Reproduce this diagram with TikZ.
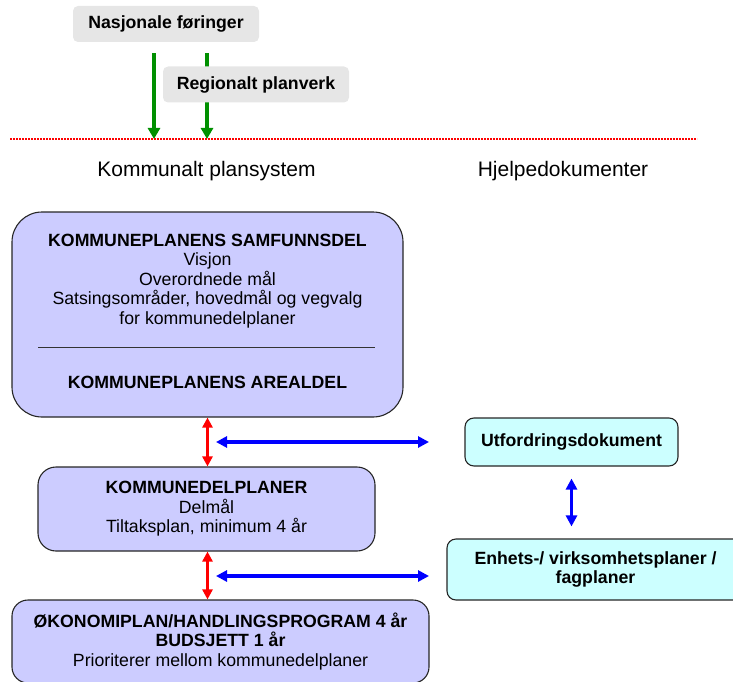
\documentclass[tikz,border=0pt]{standalone}
\usepackage{fontspec}
\setmainfont{Liberation Sans}
\usetikzlibrary{arrows.meta, positioning}
\definecolor{planblaa}{HTML}{CCCCFF}
\definecolor{hjelpturkis}{HTML}{CCFFFF}
\definecolor{lysgraa}{HTML}{E6E6E6}
\definecolor{mørkgrønn}{HTML}{009000}

\begin{document}
\begin{tikzpicture}[x=1pt, y=-1pt, font=\fontsize{17.7}{19.5}\selectfont,
	ekstern/.style = {fill=lysgraa, rounded corners=5pt, inner sep=0pt, minimum width=186pt, minimum height=36pt, font=\fontsize{17.7}{19.5}\selectfont\bfseries},
	planboks/.style = {draw=black!85, line width=1.1pt, fill=planblaa, inner sep=0pt, align=center},
	hjelpboks/.style = {draw=black!85, line width=1.1pt, fill=hjelpturkis, inner sep=0pt, align=center, rounded corners=9pt, font=\fontsize{17.7}{19.5}\selectfont\bfseries},
	grønnpil/.style = {draw=mørkgrønn, line width=3.2pt, -{Triangle[length=11pt, width=12pt]}},
	rødpil/.style = {draw=red, line width=2.6pt, {Triangle[length=10pt, width=10pt]}-{Triangle[length=10pt, width=10pt]}},
	blaapil/.style = {draw=blue, line width=3.1pt, {Triangle[length=11pt, width=11pt]}-{Triangle[length=11pt, width=11pt]}}]
	\useasboundingbox (0,0) rectangle (733,682);

	% nasjonalt og regionalt nivaa
	\coordinate (grensev) at (10,139);
	\coordinate (grenseh) at (697,139);
	\node [ekstern] (nasjonale) at (166,24) {Nasjonale føringer};
	\draw [grønnpil] ([xshift=-12pt, yshift=-11pt]nasjonale.south) -- ([xshift=-12pt]nasjonale.south |- grensev);
	\draw [grønnpil] ([xshift=41pt, yshift=-11pt]nasjonale.south) -- ([xshift=41pt]nasjonale.south |- grensev);
	\node [ekstern] (regionalt) at (256,84.5) {Regionalt planverk};
	\draw [red, densely dotted, line width=2pt] (grensev) -- (grenseh);

	\node [font=\fontsize{21}{23}\selectfont] (kommunalt) at (206.5,171) {Kommunalt plansystem};
	\node [font=\fontsize{21}{23}\selectfont] (hjelpedok) at (563,171) {Hjelpedokumenter};

	% kommunalt plansystem
	\node [planboks, rounded corners=30pt, minimum width=391pt, minimum height=205pt] (samfunn) at (207.5,314.5) {};
	\node [align=center] (samfunntekst) at (207.5,281) {\textbf{KOMMUNEPLANENS SAMFUNNSDEL}\\Visjon\\Overordnede mål\\Satsingsområder, hovedmål og vegvalg\\for kommunedelplaner};
	\draw [black!80, line width=0.6pt] (38,347) -- (375,347);
	\node [font=\fontsize{17.7}{19.5}\selectfont\bfseries] (areal) at (207.5,382) {KOMMUNEPLANENS AREALDEL};

	\node [planboks, rounded corners=18pt, minimum width=337pt, minimum height=84pt] (delplan) at (206.5,509) {\textbf{KOMMUNEDELPLANER}\\Delmål\\Tiltaksplan, minimum 4 år};
	\node [planboks, rounded corners=16pt, minimum width=417pt, minimum height=83pt] (okonomi) at (220.5,641.5) {\textbf{ØKONOMIPLAN/HANDLINGSPROGRAM 4 år}\\\textbf{BUDSJETT 1 år}\\Prioriterer mellom kommunedelplaner};

	\draw [rødpil] (samfunn.south) -- (samfunn.south |- delplan.north);
	\draw [rødpil] (samfunn.south |- delplan.south) -- (samfunn.south |- okonomi.north);

	% hjelpedokumenter
	\node [hjelpboks, minimum width=213pt, minimum height=48pt] (utfordring) at (571.5,442) {Utfordringsdokument};
	\node [hjelpboks, minimum width=297pt, minimum height=61pt] (enhets) at (595.5,569.5) {Enhets-/ virksomhetsplaner /\\fagplaner};
	\draw [blaapil] ([yshift=-12pt]utfordring.south) -- ([yshift=12pt]utfordring.south |- enhets.north);

	\coordinate (venstre1) at (216,442);
	\coordinate (hoyre1) at (429,442);
	\coordinate (venstre2) at (216,576);
	\coordinate (hoyre2) at (429,576);
	\draw [blaapil] (venstre1) -- (hoyre1);
	\draw [blaapil] (venstre2) -- (hoyre2);
\end{tikzpicture}
\end{document}
